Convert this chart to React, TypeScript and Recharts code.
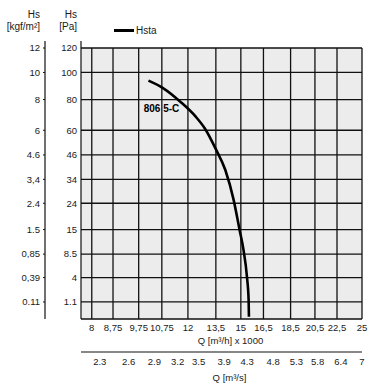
import React from 'react';
import {
  ComposedChart,
  Line,
  XAxis,
  YAxis,
  ReferenceLine,
  ReferenceArea,
  LabelList,
  Legend,
} from 'recharts';

// ---- data ----
const qTicks = [8, 8.75, 9.75, 10.75, 12, 13.5, 15, 16.5, 18.5, 20.5, 22.5, 25]; // m³/h x 1000
const qLabels = ['8', '8,75', '9,75', '10,75', '12', '13,5', '15', '16,5', '18,5', '20,5', '22,5', '25'];
const qsTicks = [2.3, 2.6, 2.9, 3.2, 3.5, 3.9, 4.3, 4.8, 5.3, 5.8, 6.4, 7]; // m³/s
const qsLabels = ['2.3', '2.6', '2.9', '3.2', '3.5', '3.9', '4.3', '4.8', '5.3', '5.8', '6.4', '7'];
const paTicks = [1.1, 4, 8.5, 15, 24, 34, 46, 60, 80, 100, 120]; // Pa
const paLabels = ['1.1', '4', '8.5', '15', '24', '34', '46', '60', '80', '100', '120'];
const kgfLabels = ['0.11', '0,39', '0,85', '1.5', '2.4', '3,4', '4.6', '6', '8', '10', '12'];

const curveName = 'Hsta';
const curveLabel = '806 5-C';
const curveQ = [10.16, 10.82, 11.62, 12.4, 12.88, 13.52, 14.05, 14.55, 14.92, 15.17, 15.39, 15.5, 15.52];
const curvePa = [93.7, 88.0, 78.5, 68.5, 61.2, 48.7, 38.4, 25.3, 14.9, 9.46, 4.14, 1.27, 0.22];

// ---- layout ----
const W = 388;
const H = 388;
const X_DOMAIN: [number, number] = [7.645, 25];
const XS_DOMAIN: [number, number] = [2.124, 7];
const Y_DOMAIN: [number, number] = [0.148, 126.05];
const Q_MAX = qTicks[qTicks.length - 1];
const PA_MAX = paTicks[paTicks.length - 1];

const FONT = "'Liberation Sans', Arial, Helvetica, sans-serif";
const TXT = '#1a1a1a';
const GRID = '#111';
const BG = '#ebeceb';

const data = curveQ.map((q, i) => ({ q, pa: curvePa[i] }));

const labelOf = (ticks: number[], labels: string[]) => (v: number) => {
  const k = ticks.findIndex((t) => Math.abs(t - v) < 1e-6);
  return k >= 0 ? labels[k] : '';
};

const tickStyle = { fontSize: 9.5, fill: TXT, fontFamily: FONT };

const LegendContent = () => (
  <div style={{ display: 'flex', alignItems: 'center', fontFamily: FONT, fontSize: 10, color: TXT }}>
    <div style={{ width: 20, height: 3, background: '#000', marginRight: 2 }} />
    <span>{curveName}</span>
  </div>
);

export default function App() {
  return (
    <div style={{ position: 'absolute', left: 0, top: 0, width: W, height: H, background: '#fff', fontFamily: FONT }}>
      <div style={{ position: 'absolute', right: W - 40, top: 9, textAlign: 'right', fontSize: 10, lineHeight: '12px', color: TXT }}>
        <div>Hs</div>
        <div>[kgf/m²]</div>
      </div>
      <div style={{ position: 'absolute', right: W - 77, top: 9, textAlign: 'right', fontSize: 10, lineHeight: '12px', color: TXT }}>
        <div>Hs</div>
        <div>[Pa]</div>
      </div>
      <ComposedChart width={W} height={H} data={data} margin={{ top: 41, right: 26, bottom: 0, left: 0 }}>
        <XAxis
          xAxisId="a_q"
          dataKey="q"
          type="number"
          scale="log"
          domain={X_DOMAIN}
          ticks={qTicks}
          tickFormatter={labelOf(qTicks, qLabels)}
          allowDataOverflow
          axisLine={false}
          tickLine={false}
          tickSize={0}
          tickMargin={5}
          height={33}
          tick={tickStyle}
          interval={0}
          label={{
            content: (props: any) => {
              const vb = props.viewBox || {};
              return (
                <text x={vb.x + vb.width / 2 + 9} y={vb.y + 25} textAnchor="middle" fontSize={9.5} fill={TXT} fontFamily={FONT}>
                  Q [m³/h] x 1000
                </text>
              );
            },
          }}
        />
        <XAxis
          xAxisId="b_s"
          dataKey={(d: any) => d.q / 3.6}
          type="number"
          scale="log"
          domain={XS_DOMAIN}
          ticks={qsTicks}
          tickFormatter={labelOf(qsTicks, qsLabels)}
          allowDataOverflow
          axisLine={{ stroke: GRID, strokeWidth: 1.2 }}
          tickLine={false}
          tickSize={0}
          tickMargin={6}
          height={36}
          tick={tickStyle}
          interval={0}
          label={{
            content: (props: any) => {
              const vb = props.viewBox || {};
              return (
                <text x={vb.x + vb.width / 2 + 8} y={vb.y + 29} textAnchor="middle" fontSize={9.5} fill={TXT} fontFamily={FONT}>
                  Q [m³/s]
                </text>
              );
            },
          }}
        />
        <YAxis
          yAxisId="a_pa"
          type="number"
          scale="sqrt"
          domain={Y_DOMAIN}
          ticks={paTicks}
          tickFormatter={labelOf(paTicks, paLabels)}
          allowDataOverflow
          axisLine={{ stroke: GRID, strokeWidth: 1.2 }}
          tickLine={false}
          tickSize={0}
          tickMargin={4}
          width={36}
          tick={tickStyle}
          interval={0}
        />
        <YAxis
          yAxisId="b_kgf"
          type="number"
          scale="sqrt"
          domain={Y_DOMAIN}
          ticks={paTicks}
          tickFormatter={labelOf(paTicks, kgfLabels)}
          allowDataOverflow
          axisLine={{ stroke: GRID, strokeWidth: 1.2 }}
          tickLine={{ stroke: GRID, strokeWidth: 1 }}
          tickSize={2}
          tickMargin={3}
          width={45}
          tick={tickStyle}
          interval={0}
        />
        <ReferenceArea
          xAxisId="a_q"
          yAxisId="a_pa"
          x1={X_DOMAIN[0]}
          x2={Q_MAX}
          y1={Y_DOMAIN[0]}
          y2={PA_MAX}
          fill={BG}
          fillOpacity={1}
          stroke="none"
        />
        {paTicks.map((p) => (
          <ReferenceLine
            key={'h' + p}
            xAxisId="a_q"
            yAxisId="a_pa"
            segment={[{ x: X_DOMAIN[0], y: p }, { x: Q_MAX, y: p }]}
            stroke={GRID}
            strokeWidth={1.3}
          />
        ))}
        <ReferenceLine
          xAxisId="a_q"
          yAxisId="a_pa"
          segment={[{ x: X_DOMAIN[0], y: Y_DOMAIN[0] }, { x: Q_MAX, y: Y_DOMAIN[0] }]}
          stroke={GRID}
          strokeWidth={1.3}
        />
        {qTicks.map((q) => (
          <ReferenceLine
            key={'v' + q}
            xAxisId="a_q"
            yAxisId="a_pa"
            segment={[{ x: q, y: Y_DOMAIN[0] }, { x: q, y: PA_MAX }]}
            stroke={GRID}
            strokeWidth={1.3}
          />
        ))}
        <Legend
          layout="horizontal"
          verticalAlign="middle"
          align="center"
          content={<LegendContent />}
          wrapperStyle={{ position: 'absolute', top: 25, left: 114, width: 'auto', height: 14 }}
        />
        <Line
          xAxisId="a_q"
          yAxisId="a_pa"
          name={curveName}
          dataKey="pa"
          type="monotone"
          stroke="#000"
          strokeWidth={2.6}
          dot={false}
          activeDot={false}
          isAnimationActive={false}
        >
          <LabelList
            dataKey="pa"
            content={(props: any) => {
              if (props.index !== 2) return null;
              return (
                <text
                  x={props.x - 1}
                  y={props.y + 10}
                  textAnchor="end"
                  fontSize={10}
                  fontWeight="bold"
                  fill="#000"
                  fontFamily={FONT}
                >
                  {curveLabel}
                </text>
              );
            }}
          />
        </Line>
      </ComposedChart>
    </div>
  );
}
